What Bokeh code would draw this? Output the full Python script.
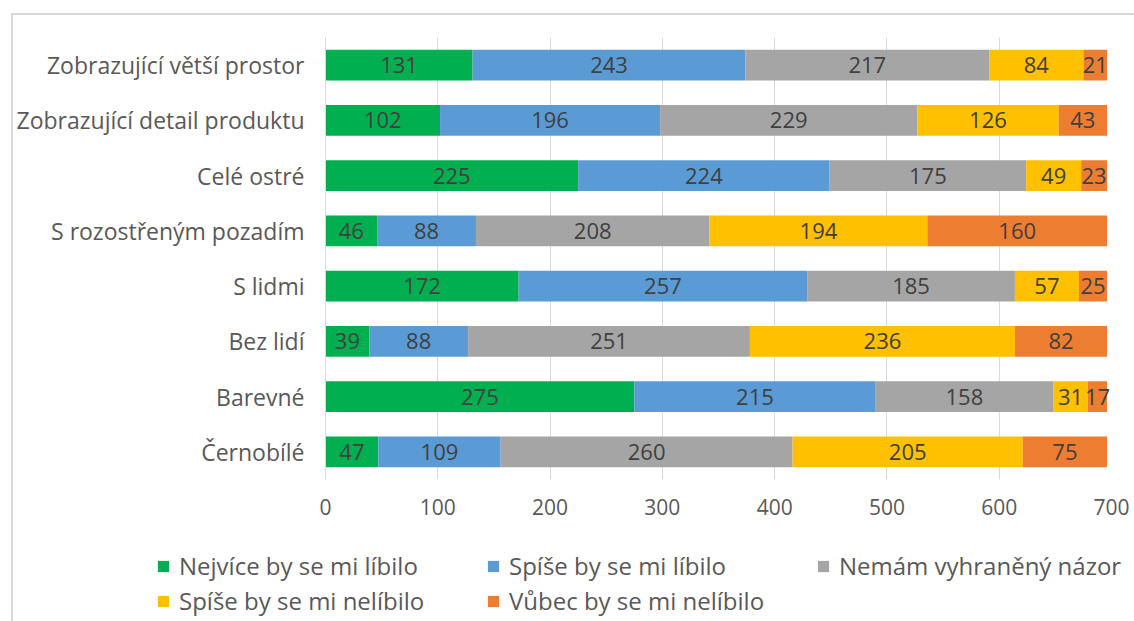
from bokeh.plotting import figure
from bokeh.layouts import column
from bokeh.models import ColumnDataSource, FactorRange, Range1d, Legend, LegendItem, FixedTicker
from bokeh.core.properties import value
from bokeh.embed import file_html
from bokeh.resources import INLINE

# Survey answers per photo type (counts)
categories = [
    "Zobrazující větší prostor",
    "Zobrazující detail produktu",
    "Celé ostré",
    "S rozostřeným pozadím",
    "S lidmi",
    "Bez lidí",
    "Barevné",
    "Černobílé",
]
series_names = [
    "Nejvíce by se mi líbilo",
    "Spíše by se mi líbilo",
    "Nemám vyhraněný názor",
    "Spíše by se mi nelíbilo",
    "Vůbec by se mi nelíbilo",
]
nejvice_libilo = [131, 102, 225, 46, 172, 39, 275, 47]
spise_libilo = [243, 196, 224, 88, 257, 88, 215, 109]
bez_nazoru = [217, 229, 175, 208, 185, 251, 158, 260]
spise_nelibilo = [84, 126, 49, 194, 57, 236, 31, 205]
vubec_nelibilo = [21, 43, 23, 160, 25, 82, 17, 75]
x_ticks = [0, 100, 200, 300, 400, 500, 600, 700]

series_values = [nejvice_libilo, spise_libilo, bez_nazoru, spise_nelibilo, vubec_nelibilo]
colors = ["#00B050", "#5B9BD5", "#A5A5A5", "#FFC000", "#ED7D31"]

FONT = "Open Sans"
TEXT_GREY = "#595959"
LABEL_GREY = "#404040"
WIDTH = 1121

p = figure(
    y_range=FactorRange(*reversed(categories), range_padding=0),
    x_range=Range1d(0, 700),
    width=WIDTH, height=525,
    output_backend="svg", toolbar_location=None,
    min_border_left=312, min_border_right=23,
    min_border_top=22, min_border_bottom=61,
)
p.frame_align = False
p.outline_line_color = None
p.background_fill_color = "white"
p.border_fill_color = "white"

# stacked segments and their centred value labels
left = [0] * len(categories)
for name, vals, col in zip(series_names, series_values, colors):
    right = [l + v for l, v in zip(left, vals)]
    src = ColumnDataSource(dict(
        cat=categories, left=left, right=right,
        mid=[(l + r) / 2 for l, r in zip(left, right)],
        txt=[str(v) for v in vals],
    ))
    p.hbar(y="cat", left="left", right="right", height=0.56,
           source=src, fill_color=col, line_color=None)
    p.text(x="mid", y="cat", text="txt", source=src,
           text_align="center", text_baseline="middle",
           text_font=value(FONT), text_font_size="22px", text_color=LABEL_GREY)
    left = right

p.xgrid.grid_line_color = "#D9D9D9"
p.xgrid.grid_line_width = 1
p.ygrid.grid_line_color = None

p.xaxis.ticker = FixedTicker(ticks=x_ticks)
p.xaxis.axis_line_color = None
p.xaxis.major_tick_line_color = None
p.xaxis.minor_tick_line_color = None
p.xaxis.major_tick_out = 0
p.xaxis.major_tick_in = 0
p.xaxis.major_label_standoff = 19
p.xaxis.major_label_text_font = FONT
p.xaxis.major_label_text_font_size = "21px"
p.xaxis.major_label_text_color = TEXT_GREY

p.yaxis.axis_line_color = "#D9D9D9"
p.yaxis.major_tick_line_color = None
p.yaxis.minor_tick_line_color = None
p.yaxis.major_tick_out = 0
p.yaxis.major_tick_in = 0
p.yaxis.major_label_standoff = 21
p.yaxis.major_label_text_font = FONT
p.yaxis.major_label_text_font_size = "23px"
p.yaxis.major_label_text_color = TEXT_GREY

# legend strip below the chart; its swatches sit outside the visible range
leg = figure(
    width=WIDTH, height=81, x_range=Range1d(0, 1), y_range=Range1d(0, 1),
    output_backend="svg", toolbar_location=None,
    x_axis_location=None, y_axis_location=None,
    min_border=0,
)
leg.frame_align = False
leg.outline_line_color = None
leg.xgrid.grid_line_color = None
leg.ygrid.grid_line_color = None
legend_items = []
for name, col in zip(series_names, colors):
    r = leg.quad(left=[5], right=[6], bottom=[5], top=[6], fill_color=col, line_color=None)
    legend_items.append(LegendItem(label=name, renderers=[r]))

legend = Legend(
    items=legend_items, ncols=3, orientation="horizontal",
    location=(143, 4),
    glyph_width=14, glyph_height=14, label_standoff=9,
    label_width=305, label_height=30, spacing=2,
    padding=0, margin=0,
    border_line_color=None, background_fill_alpha=0,
    label_text_font=FONT, label_text_font_size="24px", label_text_color=TEXT_GREY,
)
leg.add_layout(legend, "center")

layout = column(
    p, leg, spacing=0,
    margin=(13, 0, 0, 11),
    styles={"border-top": "2px solid #D9D9D9", "border-left": "2px solid #D9D9D9"},
)

open("out.html", "w").write(file_html(layout, INLINE))
